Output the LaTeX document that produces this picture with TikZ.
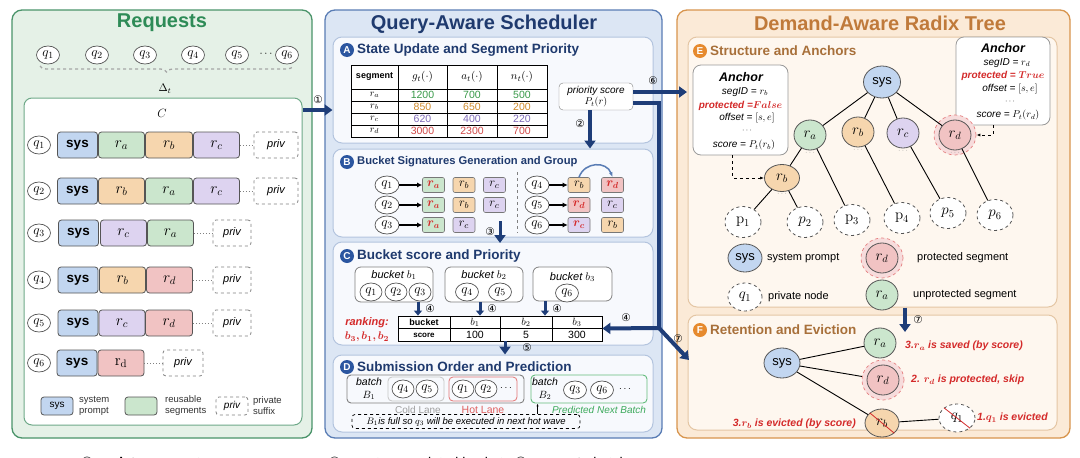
\RequirePackage{fix-cm}
\documentclass[tikz,border=0pt]{standalone}
\usepackage[no-math]{fontspec}
\setmainfont{Liberation Sans}
\newfontfamily\djv{DejaVu Sans}
\usepackage{bm}
\usetikzlibrary{shapes.geometric,arrows.meta,decorations.pathreplacing,calc}
\definecolor{sysc}{HTML}{C2D6F0}
\definecolor{rac}{HTML}{CBE6CD}
\definecolor{rbc}{HTML}{F6D6AE}
\definecolor{rcc}{HTML}{DDD3F0}
\definecolor{rdc}{HTML}{F1C3C3}
\definecolor{edgec}{HTML}{555555}
\definecolor{gpanel}{HTML}{E5F1E7}
\definecolor{gborder}{HTML}{4A946A}
\definecolor{gtitle}{HTML}{2E8B57}
\definecolor{bpanel}{HTML}{DCE6F4}
\definecolor{bborder}{HTML}{5A7DB5}
\definecolor{navy}{HTML}{1F3A6E}
\definecolor{secfill}{HTML}{F7F9FD}
\definecolor{secborder}{HTML}{B3C4DE}
\definecolor{opanel}{HTML}{FBEAD7}
\definecolor{oborder}{HTML}{D8954E}
\definecolor{otitle}{HTML}{C07A3A}
\definecolor{osub}{HTML}{A8703A}
\definecolor{osec}{HTML}{FEF7EF}
\definecolor{osecborder}{HTML}{E4C6A4}
\definecolor{arrowc}{HTML}{1E3D78}
\definecolor{redt}{HTML}{D42A2A}
\definecolor{tgreen}{HTML}{3A9A4A}
\definecolor{torange}{HTML}{D08A2A}
\definecolor{tpurple}{HTML}{7E6AB8}
\definecolor{tred}{HTML}{D04848}
\definecolor{badgeb}{HTML}{2B56A0}
\definecolor{badgeo}{HTML}{E68A2E}
\definecolor{lgreen}{HTML}{3DAA5C}
\definecolor{halo}{HTML}{F7DCDC}
\newcommand\rr[1]{\textcolor{redt}{$\bm{#1}$}}
\newcommand\cn[1]{{\djv #1}}
\tikzset{
  panel/.style={rounded corners=10pt, line width=1.3pt, inner sep=0pt},
  sec/.style={rounded corners=9pt, draw=secborder, fill=secfill, line width=1pt, inner sep=0pt},
  osecst/.style={rounded corners=9pt, draw=osecborder, fill=osec, line width=1pt, inner sep=0pt},
  ptitle/.style={font=\fontsize{20}{24}\selectfont\bfseries},
  stitle/.style={font=\fontsize{13.5}{16}\selectfont\bfseries, anchor=west, text=navy, inner sep=0pt},
  badge/.style={circle, fill=#1, text=white, inner sep=0pt, minimum size=14pt, font=\fontsize{10}{12}\selectfont\bfseries},
  blk/.style 2 args={draw=edgec, fill=#1, rounded corners=3pt, minimum width=#2, minimum height=26pt, inner sep=0pt, line width=0.8pt, font=\fontsize{15.5}{18}\selectfont},
  sysb/.style={blk={sysc}{40pt}, font=\fontsize{13.5}{15}\selectfont\bfseries},
  privb/.style={draw=gray, dashed, fill=white, rounded corners=3pt, minimum width=#1, minimum height=26pt, inner sep=0pt, line width=0.8pt, font=\fontsize{11}{13}\selectfont\itshape},
  qn/.style={ellipse, draw=edgec, fill=white, inner sep=0pt, minimum width=23pt, minimum height=18pt, line width=0.7pt, font=\fontsize{13.5}{15}\selectfont},
  sb/.style={draw=edgec!80, fill=#1, rounded corners=2pt, minimum width=22pt, minimum height=15pt, inner sep=0pt, line width=0.6pt, font=\fontsize{12.5}{13}\selectfont},
  dotc/.style={draw=gray, dotted, line width=1pt},
  lt/.style={font=\fontsize{9.5}{11}\selectfont, text=black!80, align=left, inner sep=0pt, anchor=west},
  bigarr/.style={draw=arrowc, line width=4pt, -{Triangle[length=8pt,width=11pt]}},
  bigline/.style={draw=arrowc, line width=4pt},
  num/.style={font=\fontsize{10.5}{12}\selectfont\djv, inner sep=0pt},
  cell/.style={font=\fontsize{10.5}{12}\selectfont, inner sep=0pt},
  bucket/.style={draw=gray, rounded corners=6pt, fill=white, line width=0.8pt, inner sep=0pt},
  tn/.style={ellipse, draw=edgec, inner sep=0pt, minimum width=32pt, minimum height=30pt, line width=0.8pt, font=\fontsize{15}{17}\selectfont},
  pn/.style={tn, dashed, fill=white, minimum width=36pt, minimum height=31pt},
  halon/.style={ellipse, draw=redt!60, dashed, fill=halo, minimum width=42pt, minimum height=40pt, inner sep=0pt, line width=0.7pt},
  anch/.style={draw=gray!80, fill=white, rounded corners=8pt, line width=0.8pt, inner sep=0pt},
  atx/.style={font=\fontsize{10}{12}\selectfont\itshape, inner sep=0pt},
  lgt/.style={font=\fontsize{11}{13}\selectfont, inner sep=0pt, anchor=west},
  ft/.style={font=\fontsize{10.5}{12}\selectfont\bfseries\itshape, text=redt, inner sep=0pt},
  tedge/.style={draw=black, line width=0.9pt}
}
\begin{document}
\begin{tikzpicture}[x=1pt,y=-1pt]
\useasboundingbox (0,0) rectangle (1080,458);
\clip (0,0) rectangle (1080,458);
\fill[white] (0,0) rectangle (1080,458);

% ================= Requests =================
\node[panel, draw=gborder, fill=gpanel, minimum width=300pt, minimum height=428pt] (reqp) at (162,224) {};
\node[ptitle, text=gtitle] (reqt) at (162,23) {Requests};
\foreach \i/\x in {1/48,2/97,3/145,4/193,5/237,6/287}
  \node[qn] (tq\i) at (\x,55) {$q_{\i}$};
\node[font=\fontsize{11}{12}\selectfont] (tqd) at (266,54) {$\cdots$};
\draw[decorate, decoration={brace, mirror, amplitude=6pt}, draw=gray!70, dashed, line width=1.3pt] (40,66) -- (293,66);
\node[font=\fontsize{11}{12}\selectfont] (dt) at (165,89) {$\Delta_t$};
\node[draw=gborder!80, fill=white, rounded corners=8pt, line width=1pt, minimum width=278pt, minimum height=327pt, inner sep=0pt] (cin) at (163,261.5) {};
\node[font=\fontsize{12}{13}\selectfont] (cl) at (162,113) {$C$};

% row 1
\node[qn] (rq1) at (39,145) {$q_1$};
\node[sysb] (s1) at (77.5,145) {sys};
\node[blk={rac}{46pt}] (s1a) at (121.5,145) {$r_a$};
\node[blk={rbc}{47pt}] (s1b) at (169,145) {$r_b$};
\node[blk={rcc}{46pt}] (s1c) at (216.5,145) {$r_c$};
\node[privb=44pt] (p1) at (276,145) {priv};
\draw[dotc] (s1c) -- (p1);
% row 2
\node[qn] (rq2) at (39,191) {$q_2$};
\node[sysb] (s2) at (77.5,191) {sys};
\node[blk={rbc}{46pt}] (s2a) at (121.5,191) {$r_b$};
\node[blk={rac}{47pt}] (s2b) at (169,191) {$r_a$};
\node[blk={rcc}{46pt}] (s2c) at (216.5,191) {$r_c$};
\node[privb=44pt] (p2) at (276,191) {priv};
\draw[dotc] (s2c) -- (p2);
% row 3
\node[qn] (rq3) at (39,233) {$q_3$};
\node[sysb] (s3) at (78.5,233) {sys};
\node[blk={rcc}{46pt}] (s3a) at (123.5,233) {$r_c$};
\node[blk={rac}{46pt}] (s3b) at (170.5,233) {$r_a$};
\node[privb=38pt] (p3) at (232,233) {priv};
\draw[dotc] (s3b) -- (p3);
% row 4
\node[qn] (rq4) at (39,280) {$q_4$};
\node[sysb] (s4) at (78,280) {sys};
\node[blk={rbc}{46pt}] (s4a) at (122.5,280) {$r_b$};
\node[blk={rdc}{46pt}] (s4b) at (169.5,280) {$r_d$};
\node[privb=38pt] (p4) at (232,280) {priv};
\draw[dotc] (s4b) -- (p4);
% row 5
\node[qn] (rq5) at (39,323) {$q_5$};
\node[sysb] (s5) at (78,323) {sys};
\node[blk={rcc}{46pt}] (s5a) at (122,323) {$r_c$};
\node[blk={rdc}{47pt}] (s5b) at (169,323) {$r_d$};
\node[privb=38pt] (p5) at (232,323) {priv};
\draw[dotc] (s5b) -- (p5);
% row 6
\node[qn] (rq6) at (39,363) {$q_6$};
\node[sysb] (s6) at (77,363) {sys};
\node[blk={rdc}{46pt}] (s6a) at (121,363) {$\mathrm{r_d}$};
\node[privb=40pt] (p6) at (183,363) {priv};
\draw[dotc] (s6a) -- (p6);
% legend
\node[blk={sysc}{32pt}, minimum height=18pt, font=\fontsize{10}{12}\selectfont] (lsys) at (57,406) {sys};
\node[lt] (lsyst) at (79,406) {system\\prompt};
\node[blk={rac}{32pt}, minimum height=18pt] (lreu) at (141,406) {};
\node[lt] (lreut) at (165,406) {reusable\\segments};
\node[privb=32pt, minimum height=18pt, font=\fontsize{10}{12}\selectfont\itshape] (lpriv) at (232,406) {priv};
\node[lt] (lprivt) at (253,406) {private\\suffix};

% ================= Scheduler =================
\node[panel, draw=bborder, fill=bpanel, minimum width=337pt, minimum height=428pt] (schp) at (493.5,224) {};
\node[ptitle, text=navy] (scht) at (484,24) {Query-Aware Scheduler};
\node[sec, minimum width=320pt, minimum height=106pt] (secA) at (493,90) {};
\node[sec, minimum width=320pt, minimum height=88pt] (secB) at (493,193) {};
\node[sec, minimum width=320pt, minimum height=103pt] (secC) at (493,293.5) {};
\node[sec, minimum width=320pt, minimum height=77pt] (secD) at (493,393.5) {};

% A
\node[badge=badgeb] (bA) at (347,50) {A};
\node[stitle] (tA) at (357,50) {State Update and Segment Priority};
\node[draw, line width=0.8pt, fill=white, minimum width=196pt, minimum height=72pt, inner sep=0pt] (tabA) at (449,101) {};
\draw[line width=0.8pt] (351,89) -- (547,89);
\foreach \yy in {101,113,125} \draw[line width=0.5pt] (351,\yy) -- (547,\yy);
\foreach \xx in {398,447,497} \draw[line width=0.8pt] (\xx,65) -- (\xx,137);
\node[cell, font=\fontsize{9}{10}\selectfont\bfseries] (ha0) at (374.5,77) {segment};
\node[cell, font=\fontsize{11}{12}\selectfont] (ha1) at (422.5,77) {$g_t(\cdot)$};
\node[cell, font=\fontsize{11}{12}\selectfont] (ha2) at (472,77) {$a_t(\cdot)$};
\node[cell, font=\fontsize{11}{12}\selectfont] (ha3) at (522,77) {$n_t(\cdot)$};
\foreach \lab/\c/\g/\a/\n [count=\i] in {r_a/tgreen/1200/700/500, r_b/torange/850/650/200, r_c/tpurple/620/400/220, r_d/tred/3000/2300/700}{
  \node[cell, font=\fontsize{10}{10}\selectfont] (ra\i) at (374.5,83+12*\i) {$\lab$};
  \node[cell, text=\c] (ga\i) at (422.5,83+12*\i) {\g};
  \node[cell, text=\c] (aa\i) at (472,83+12*\i) {\a};
  \node[cell, text=\c] (na\i) at (522,83+12*\i) {\n};
}
\node[draw=gray, rounded corners=4pt, fill=white, minimum width=74pt, minimum height=27pt, inner sep=1pt, align=center, font=\fontsize{10}{11.5}\selectfont\itshape] (pr) at (596,96.5) {priority score\\$P_t(r)$};

% B
\node[badge=badgeb] (bB) at (347,162) {B};
\node[stitle, font=\fontsize{11.2}{14}\selectfont\bfseries] (tB) at (357,162) {Bucket Signatures Generation and Group};
\foreach \i/\y in {1/185,2/205,3/225}
  \node[qn, minimum width=24pt, minimum height=18pt] (bq\i) at (387,\y) {$q_{\i}$};
\foreach \i/\y in {4/185,5/205,6/225}
  \node[qn, minimum width=24pt, minimum height=18pt] (bq\i) at (537,\y) {$q_{\i}$};
\node[sb=rac] (b11) at (433.5,185) {\rr{r_a}};
\node[sb=rbc] (b12) at (464,185) {$r_b$};
\node[sb=rcc] (b13) at (494.5,185) {$r_c$};
\node[sb=rac] (b21) at (433.5,205) {\rr{r_a}};
\node[sb=rbc] (b22) at (464,205) {$r_b$};
\node[sb=rcc] (b23) at (494.5,205) {$r_c$};
\node[sb=rac] (b31) at (433.5,225) {\rr{r_a}};
\node[sb=rcc] (b32) at (464,225) {$r_c$};
\node[sb=rbc] (b41) at (579,185) {$r_b$};
\node[sb=rdc] (b42) at (612.5,185) {\rr{r_d}};
\node[sb=rdc] (b51) at (579,205) {\rr{r_d}};
\node[sb=rcc] (b52) at (612.5,205) {$r_c$};
\node[sb=rcc] (b61) at (579,225) {\rr{r_c}};
\node[sb=rbc] (b62) at (612.5,225) {$r_b$};
\foreach \i in {1,2,3,4,5,6}
  \draw[-{Latex[length=5pt,width=5pt]}, line width=1.4pt] (bq\i) -- (b\i1);
\draw[-{Latex[length=5pt]}, draw=bborder, line width=1.5pt] (b41.north) to[out=70, in=110, looseness=1.3] (b42.north);
\draw[gray, dashed, line width=0.7pt] (517,172) -- (517,233);

% C
\node[badge=badgeb] (bC) at (347,256) {C};
\node[stitle] (tC0) at (357,256) {Bucket score and Priority};
\node[bucket, minimum width=78pt, minimum height=35pt] (bk1) at (394,284.5) {};
\node[bucket, minimum width=78pt, minimum height=35pt] (bk2) at (484,284.5) {};
\node[bucket, minimum width=79pt, minimum height=34pt] (bk3) at (572.5,284) {};
\node[atx, font=\fontsize{11}{12}\selectfont\itshape] (bk1t) at (394,275) {bucket $b_1$};
\node[atx, font=\fontsize{11}{12}\selectfont\itshape] (bk2t) at (484,275) {bucket $b_2$};
\node[atx, font=\fontsize{11}{12}\selectfont\itshape] (bk3t) at (572.5,277) {bucket $b_3$};
\node[qn, minimum width=22pt] (cq1) at (371,292) {$q_1$};
\node[qn, minimum width=22pt] (cq2) at (396,292) {$q_2$};
\node[qn, minimum width=22pt] (cq3) at (420,292) {$q_3$};
\node[qn] (cq4) at (467,292) {$q_4$};
\node[qn] (cq5) at (500,292) {$q_5$};
\node[qn] (cq6) at (567,293) {$q_6$};
\node[draw, line width=0.8pt, fill=white, minimum width=204pt, minimum height=25pt, inner sep=0pt] (tabC) at (500,328.5) {};
\draw[line width=0.6pt] (398,328.5) -- (602,328.5);
\foreach \xx in {450,500,552} \draw[line width=0.8pt] (\xx,316) -- (\xx,341);
\node[cell, font=\fontsize{9}{10}\selectfont\bfseries] (hc0) at (424,322.5) {bucket};
\node[cell] (hc1) at (475,322.5) {$b_1$};
\node[cell] (hc2) at (526,322.5) {$b_2$};
\node[cell] (hc3) at (577,322.5) {$b_3$};
\node[cell, font=\fontsize{8}{10}\selectfont\bfseries] (sc0) at (424,335) {score};
\node[cell] (sc1) at (475,335) {100};
\node[cell] (sc2) at (526,335) {5};
\node[cell] (sc3) at (577,335) {300};
\foreach \b/\dx in {1/24,2/-4,3/-27.5}
  \draw[bigarr, line width=3pt, -{Triangle[length=5pt,width=8pt]}] ([xshift=\dx pt]bk\b.south) -- ([xshift=\dx pt]bk\b.south |- tabC.north);
\node[num] (n4a) at (430,309) {④};
\node[num] (n4b) at (492,309) {④};
\node[num] (n4c) at (557,309) {④};
\node[ft, font=\fontsize{11}{14}\selectfont\bfseries\itshape, align=center] (rank) at (367,330) {ranking:\\$\bm{b_3, b_1, b_2}$};

% D
\node[badge=badgeb] (bD) at (347,367) {D};
\node[stitle] (tD) at (357,367) {Submission Order and Prediction};
\node[draw=gray, rounded corners=4pt, line width=0.9pt, minimum width=177pt, minimum height=28pt, inner sep=0pt] (bB1) at (435.5,389) {};
\node[font=\fontsize{10.5}{12.5}\selectfont\itshape, align=center, inner sep=0pt] (bB1t) at (369,389) {batch\\$B_1$};
\node[draw=gray!45, rounded corners=4pt, line width=0.8pt, minimum width=56pt, minimum height=24pt, inner sep=0pt] (cold) at (416,389) {};
\node[qn, minimum width=22pt] (dq4) at (403,389) {$q_4$};
\node[qn, minimum width=22pt] (dq5) at (427,389) {$q_5$};
\node[draw=redt!65, rounded corners=4pt, line width=0.8pt, minimum width=68pt, minimum height=24pt, inner sep=0pt] (hot) at (483,389) {};
\node[qn, minimum width=22pt] (dq1) at (463,389) {$q_1$};
\node[qn, minimum width=22pt] (dq2) at (486,389) {$q_2$};
\node[font=\fontsize{10}{12}\selectfont] (dd1) at (506,388) {$\cdots$};
\node[draw=lgreen!80, rounded corners=4pt, line width=0.9pt, minimum width=116pt, minimum height=28pt, inner sep=0pt] (bB2) at (589,389) {};
\node[font=\fontsize{10.5}{12.5}\selectfont\itshape, align=center, inner sep=0pt] (bB2t) at (545,389) {batch\\$B_2$};
\node[qn] (dq3) at (575,390) {$q_3$};
\node[qn] (dq6) at (602,390) {$q_6$};
\node[font=\fontsize{10}{12}\selectfont] (dd2) at (625,389) {$\cdots$};
\node[font=\fontsize{10}{12}\selectfont, text=gray!75, inner sep=0pt] (coldt) at (418,410) {Cold Lane};
\node[font=\fontsize{10.5}{12}\selectfont, text=redt!75, inner sep=0pt] (hott) at (483,410) {Hot Lane};
\node[font=\fontsize{10}{12}\selectfont\itshape, text=lgreen, inner sep=0pt] (predt) at (599,410) {Predicted Next Batch};
\node[draw, dashed, rounded corners=3pt, minimum width=228pt, minimum height=14pt, inner sep=1pt, line width=0.7pt, font=\fontsize{9.5}{11}\selectfont\itshape] (note) at (466,421.5) {$B_1$is full so $q_3$ will be executed in next hot wave};
\draw[-{Latex[length=3pt]}, line width=0.8pt] ([xshift=7pt]bB2.south west |- note.north) -- ([xshift=7pt]bB2.south west);

% ================= Tree =================
\node[panel, draw=oborder, fill=opanel, minimum width=393pt, minimum height=428pt] (trp) at (873.5,224) {};
\node[ptitle, text=otitle] (trt) at (880,23) {Demand-Aware Radix Tree};
\node[osecst, minimum width=369pt, minimum height=270pt] (secE) at (872.5,172) {};
\node[osecst, minimum width=369pt, minimum height=115pt] (secF) at (872.5,372.5) {};
\node[badge=badgeo] (bE) at (700,51) {E};
\node[stitle, text=osub] (tE) at (710,51) {Structure and Anchors};

% anchors
\node[anch, minimum width=95pt, minimum height=90pt] (anL) at (740.5,110) {};
\node[atx, font=\fontsize{12.5}{14}\selectfont\bfseries\itshape] (aL1) at (741,77) {Anchor};
\node[atx] (aL2) at (745,92) {segID = $r_b$};
\node[atx, font=\fontsize{10}{12}\selectfont\bfseries\itshape, text=redt] (aL3) at (740.5,106) {protected =$\bm{False}$};
\node[atx] (aL4) at (747,118) {offset = $[s,e]$};
\node[atx, font=\fontsize{8}{9}\selectfont] (aL5) at (747,131) {$\cdots$};
\node[atx] (aL6) at (744,145) {score = $P_t(r_b)$};
\node[anch, minimum width=94pt, minimum height=88pt] (anR) at (1003,81) {};
\node[atx, font=\fontsize{12.5}{14}\selectfont\bfseries\itshape] (aR1) at (1003,48) {Anchor};
\node[atx] (aR2) at (1007,63) {segID = $r_d$};
\node[atx, font=\fontsize{10}{12}\selectfont\bfseries\itshape, text=redt] (aR3) at (1003,76) {protected = $\bm{True}$};
\node[atx] (aR4) at (1010,89) {offset = $[s,e]$};
\node[atx, font=\fontsize{8}{9}\selectfont] (aR5) at (1010,102) {$\cdots$};
\node[atx] (aR6) at (1008,115) {score = $P_t(r_d)$};

% tree E
\node[tn, fill=sysc, minimum width=37pt, minimum height=32pt, font=\fontsize{13}{15}\selectfont] (es) at (882,82) {sys};
\node[tn, fill=rac] (era) at (810,135) {$r_a$};
\node[tn, fill=rbc] (erb) at (858,132) {$r_b$};
\node[tn, fill=rcc] (erc) at (903,133) {$r_c$};
\node[halon] (erdh) at (955,135) {};
\node[tn, fill=rdc] (erd) at (955,135) {$r_d$};
\node[tn, fill=rbc, minimum width=35pt, minimum height=27pt] (ecb) at (782,178) {$r_b$};
\node[pn] (ep1) at (743,222) {$\mathrm{p}_1$};
\node[pn] (ep2) at (805,222) {$p_2$};
\node[pn] (ep3) at (852,220) {$\mathrm{p}_3$};
\node[pn] (ep4) at (902,218) {$\mathrm{p}_4$};
\node[pn] (ep5) at (948,213) {$p_5$};
\node[pn] (ep6) at (995,215) {$p_6$};
\foreach \t in {era,erb,erc,erd} \draw[tedge] (es) -- (\t);
\draw[tedge] (era) -- (ecb);
\draw[tedge] (era) -- (ep3);
\draw[tedge] (erb) -- (ep4);
\draw[tedge] (erc) -- (ep5);
\draw[tedge] (erd) -- (ep6);
\draw[tedge] (ecb) -- (ep1);
\draw[tedge] (ecb) -- (ep2);
\foreach \t in {era,erb,erc,erd} \node[font=\fontsize{7}{8}\selectfont, text=gray, inner sep=0pt] (\t d) at ([yshift=-2pt]\t.south) {$\cdots$};
\node[font=\fontsize{7}{8}\selectfont, text=gray, inner sep=0pt] (ecbd) at ([yshift=-2pt]ecb.south) {$\cdots$};
\draw[dashed, line width=0.8pt, -{Latex[length=4pt]}] ([xshift=-8pt]anL.south) |- (ecb.west);
\draw[dashed, line width=0.8pt, -{Latex[length=4pt]}] ([xshift=-10pt]anR.south) |- (erdh.east);

% legend E
\node[tn, fill=sysc, minimum width=34pt, minimum height=28pt, font=\fontsize{13}{14}\selectfont] (lgs) at (745,258) {sys};
\node[lgt] (lgst) at (767,258) {system prompt};
\node[halon] (lgdh) at (882,258) {};
\node[tn, fill=rdc] (lgd) at (882,258) {$r_d$};
\node[lgt] (lgdt) at (917,258) {protected segment};
\node[pn, minimum width=34pt, minimum height=28pt] (lgq) at (745,297) {$q_1$};
\node[lgt] (lgqt) at (768,297) {private node};
\node[tn, fill=rac] (lga) at (882,295) {$r_a$};
\node[lgt] (lgat) at (913,295) {unprotected segment};

% F
\node[badge=badgeo] (bF) at (700,330) {F};
\node[stitle, text=osub] (tF) at (710,330) {Retention and Eviction};
\node[tn, fill=sysc, minimum width=36pt, minimum height=30pt, font=\fontsize{13}{15}\selectfont] (fs) at (782,363) {sys};
\node[tn, fill=rac] (fra) at (880,343) {$r_a$};
\node[halon] (frdh) at (883,380) {};
\node[tn, fill=rdc] (frd) at (883,380) {$r_d$};
\node[tn, fill=rbc, minimum width=34pt, minimum height=28pt] (frb) at (882,423) {$r_b$};
\node[pn, minimum width=36pt, minimum height=28pt] (fq1) at (957,418) {$q_1$};
\draw[tedge] (fs) -- (fra);
\draw[tedge] (fs) -- (frdh);
\draw[tedge] (fs) -- (frb);
\draw[tedge] (frb) -- (fq1);
\draw[redt, line width=0.8pt] (frb.north west) -- (frb.south east);
\draw[redt, line width=0.8pt] (fq1.north west) -- (fq1.south east);
\node[ft, anchor=west] (fta) at (905,346) {3.$\bm{r_a}$ is saved (by score)};
\node[ft, anchor=west] (ftd) at (911,380) {2. $\bm{r_d}$ is protected, skip};
\node[ft, anchor=east] (ftb) at (856,424) {3.$\bm{r_b}$ is evicted (by score)};
\node[ft, anchor=west] (ftq) at (977,418) {1.$\bm{q_1}$ is evicted};

% ================= big arrows =================
\draw[bigarr] (cin.east |- 0,110) -- (secA.west |- 0,110);
\node[num] (n1) at (318,100) {①};
\draw[bigarr] ([xshift=-6pt]pr.south) -- ([xshift=-6pt]pr.south |- secB.north);
\node[num] (n2) at (580,124) {②};
\draw[bigarr, line width=3pt] (500,221) -- (500,243);
\node[num] (n3) at (490,232) {③};
\draw[bigarr, line width=3pt] ([xshift=5pt]tabC.south) -- ([xshift=5pt]tabC.south |- secD.north);
\node[num] (n5) at (527,348) {⑤};
\coordinate (e6) at (687,92);
\draw[bigarr] (pr.east |- e6) -- (e6);
\node[num] (n6) at (653,81) {⑥};
\coordinate (jn) at (659,328);
\draw[bigline] (pr.east |- 0,103) -- (659,103) -- (jn);
\draw[bigarr] (jn) -- (tabC.east);
\node[num] (n4) at (626,318) {④};
\coordinate (e7) at (689,360);
\draw[bigarr] (jn) -- (e7);
\node[num] (n7) at (678,339) {⑦};
\coordinate (e7b) at (905,332);
\draw[bigarr] ([xshift=32.5pt]secE.south) -- (e7b);
\node[num] (n7b) at (918,320) {⑦};

% clipped captions
\node[anchor=base, font=\fontsize{14}{16}\selectfont, inner sep=0pt] (cap1) at (160,467) {\cn{①} \textbf{update} segment score};
\node[anchor=base, font=\fontsize{14}{16}\selectfont, inner sep=0pt] (cap2) at (478,467) {\cn{②} map to associated buckets \cn{⑤} \textbf{generate} batch};
\end{tikzpicture}
\end{document}
